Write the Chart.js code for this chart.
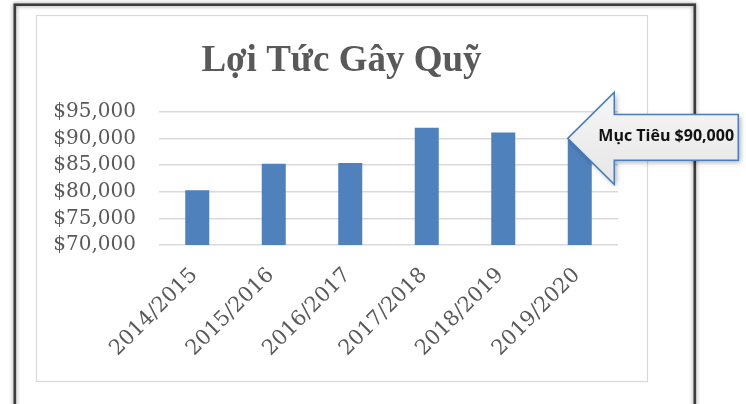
<!DOCTYPE html>
<html>
<head>
<meta charset="utf-8">
<script src="https://cdn.jsdelivr.net/npm/chart.js@4"></script>
<style>
  html, body { margin: 0; padding: 0; background: #fff; }
  #wrap { position: relative; width: 746px; height: 404px; }
</style>
</head>
<body>
<div id="wrap"><canvas id="fundChart"></canvas></div>
<script>
// data
const years = ['2014/2015', '2015/2016', '2016/2017', '2017/2018', '2018/2019', '2019/2020'];
const income = [80250, 85250, 85400, 92000, 91100, 90000];
const goal = 90000;
const goalLabel = 'Mục Tiêu $90,000';
const chartTitle = 'Lợi Tức Gây Quỹ';

const grey = '#595959';
const gridGrey = '#d9d9d9';

// frame, title and the goal callout are drawn here
const decor = {
    id: 'decor',
    beforeDraw(chart) {
        const c = chart.ctx;
        c.save();
        c.fillStyle = '#fff';
        c.fillRect(0, 0, chart.width, chart.height);

        // outer dark frame with soft shadow
        c.shadowColor = 'rgba(0,0,0,0.45)';
        c.shadowBlur = 4;
        c.strokeStyle = '#3c3c3c';
        c.lineWidth = 2.6;
        c.strokeRect(14.8, 4.7, 680, 440);
        c.shadowColor = 'transparent';

        // inner chart border
        c.strokeStyle = gridGrey;
        c.lineWidth = 1.2;
        c.strokeRect(36.5, 15.5, 611, 366);

        // title
        c.fillStyle = grey;
        c.font = 'bold 37px "Liberation Serif"';
        c.textAlign = 'center';
        c.textBaseline = 'alphabetic';
        c.fillText(chartTitle, 341.5, 71);
        c.restore();
    },
    afterDatasetsDraw(chart) {
        const bar = chart.getDatasetMeta(0).data[years.length - 1];
        const tx = bar.x - bar.width / 2;
        const ty = chart.scales.y.getPixelForValue(goal);
        const c = chart.ctx;
        c.save();
        c.beginPath();
        c.moveTo(tx, ty);
        c.lineTo(tx + 46.5, ty - 46);
        c.lineTo(tx + 46.5, ty - 23.8);
        c.lineTo(tx + 170.5, ty - 23.8);
        c.lineTo(tx + 170.5, ty + 22);
        c.lineTo(tx + 46.5, ty + 22);
        c.lineTo(tx + 46.5, ty + 46);
        c.closePath();
        const g = c.createLinearGradient(0, ty - 46, 0, ty + 46);
        g.addColorStop(0, '#f6f6f6');
        g.addColorStop(1, '#e6e6e6');
        c.shadowColor = 'rgba(0,0,0,0.35)';
        c.shadowBlur = 5;
        c.shadowOffsetX = 2;
        c.shadowOffsetY = 2;
        c.fillStyle = g;
        c.fill();
        c.shadowColor = 'transparent';
        c.strokeStyle = '#4a7ebb';
        c.lineWidth = 1.5;
        c.stroke();

        c.fillStyle = '#111';
        c.font = 'bold 16px "Open Sans"';
        c.textAlign = 'left';
        c.textBaseline = 'alphabetic';
        c.fillText(goalLabel, tx + 30.6, ty + 3);
        c.restore();
    }
};

const ctx = document.getElementById('fundChart').getContext('2d');
const fundChart = new Chart(ctx, {
    type: 'bar',
    data: {
        labels: years,
        datasets: [{
            data: income,
            backgroundColor: '#4f81bd',
            barPercentage: 0.314,
            categoryPercentage: 1
        }]
    },
    options: {
        responsive: true,
        maintainAspectRatio: false,
        animation: false,
        layout: { padding: { left: 36, right: 128, top: 111.7, bottom: 0 } },
        plugins: {
            legend: { display: false },
            tooltip: { enabled: false },
            title: { display: false }
        },
        scales: {
            y: {
                min: 70000,
                max: 95000,
                ticks: {
                    stepSize: 5000,
                    autoSkip: false,
                    padding: 23,
                    color: grey,
                    font: { family: '"DejaVu Serif"', size: 20 },
                    callback: v => '$' + v.toLocaleString('en-US')
                },
                grid: { color: gridGrey, lineWidth: 1.5, drawTicks: false },
                border: { display: false },
                afterFit: s => { s.width = 123; }
            },
            x: {
                grid: { display: false, drawTicks: false },
                border: { display: false },
                ticks: {
                    autoSkip: false,
                    minRotation: 45,
                    maxRotation: 45,
                    padding: 18,
                    labelOffset: -3,
                    color: grey,
                    font: { family: '"DejaVu Serif"', size: 21 }
                },
                afterFit: s => { s.height = 159; }
            }
        }
    },
    plugins: [decor]
});
</script>
</body>
</html>
